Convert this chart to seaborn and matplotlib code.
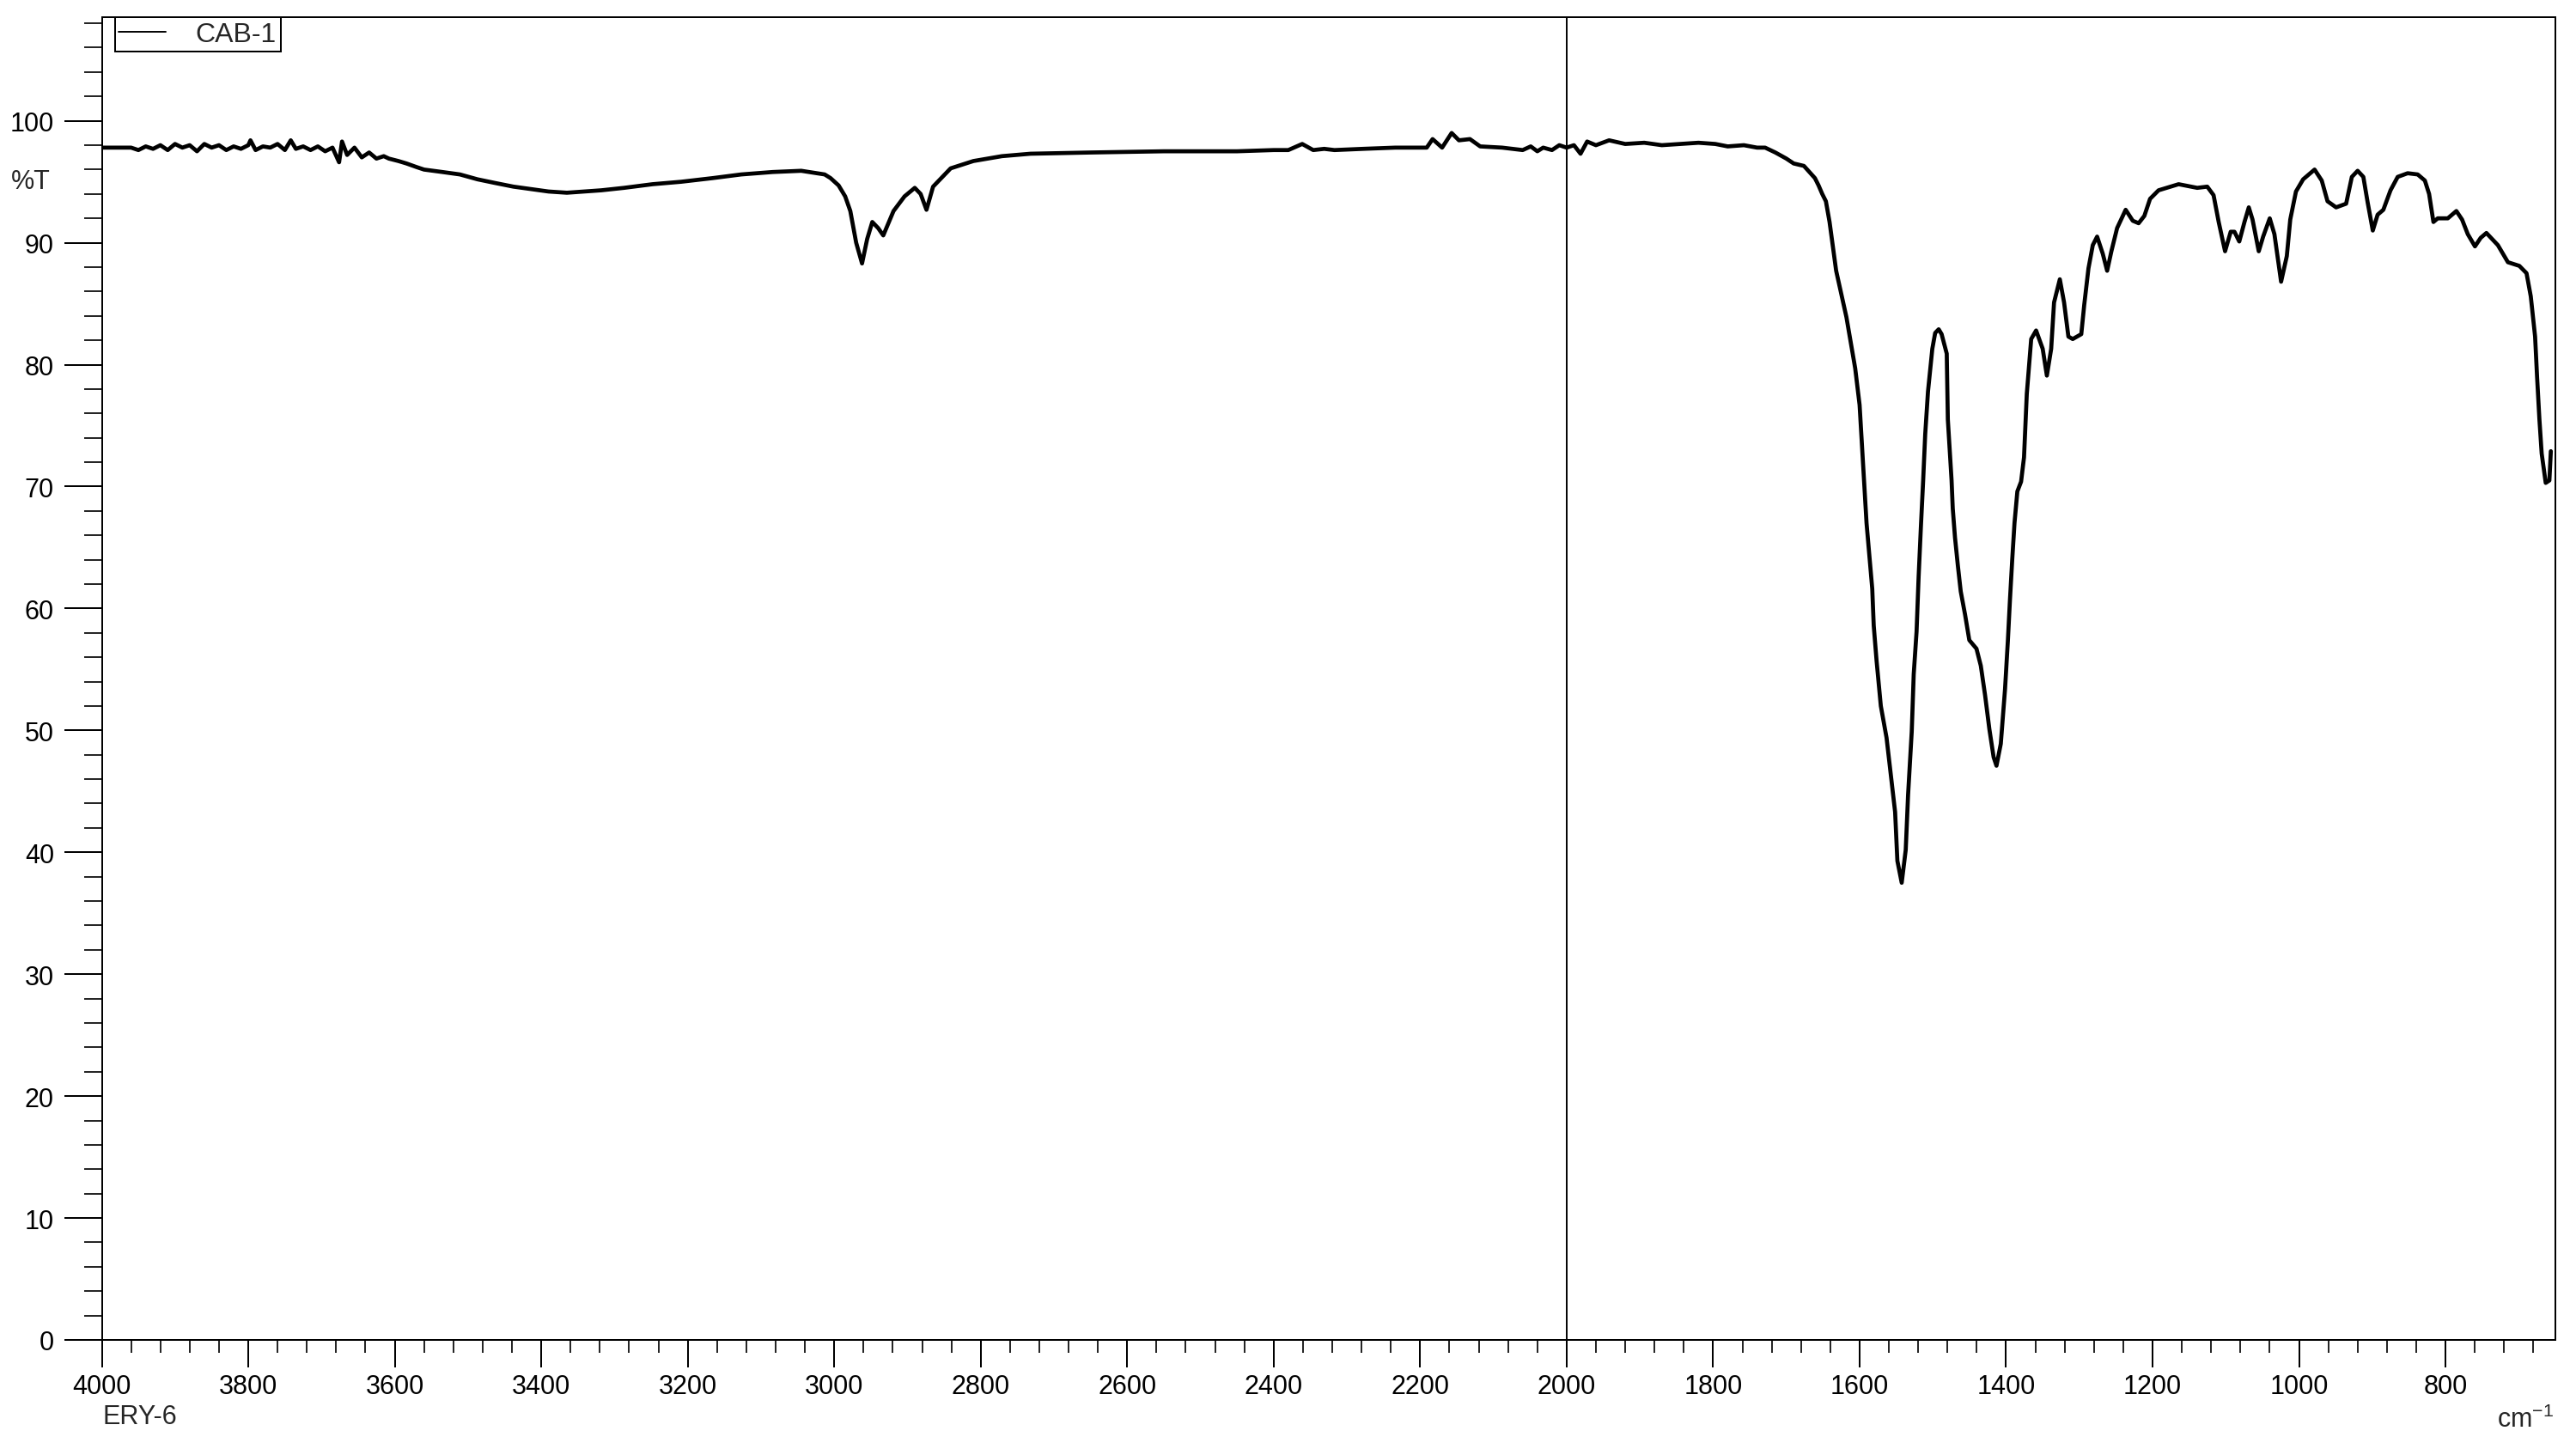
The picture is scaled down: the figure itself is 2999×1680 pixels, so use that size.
import numpy as np
import pandas as pd
import seaborn as sns
import matplotlib.pyplot as plt
from matplotlib.ticker import MultipleLocator

# spectrum: wavenumber (cm-1) and %T
wavenumber = [
    4000, 3960, 3950, 3940, 3930, 3920, 3910, 3900, 3890, 3880, 3870, 3860, 3850, 3840,
    3830, 3820, 3810, 3800, 3797, 3790, 3780, 3770, 3760, 3750, 3742, 3735, 3725, 3715,
    3705, 3695, 3685, 3676, 3672, 3665, 3655, 3645, 3635, 3625, 3615, 3608, 3595, 3584,
    3570, 3560, 3535, 3511, 3487, 3463, 3438, 3414, 3390, 3365, 3341, 3318, 3287, 3248,
    3209, 3166, 3127, 3084, 3045, 3013, 3005, 2994, 2985, 2978, 2970, 2962, 2955, 2948,
    2940, 2933, 2919, 2904, 2890, 2882, 2874, 2865, 2841, 2810, 2771, 2732, 2650, 2550,
    2450, 2400, 2380, 2361, 2346, 2331, 2317, 2278, 2234, 2191, 2183, 2170, 2157, 2147,
    2132, 2118, 2088, 2060, 2049, 2040, 2032, 2020, 2010, 2000, 1990, 1981, 1972, 1960,
    1942, 1920, 1894, 1870, 1845, 1820, 1797, 1780, 1758, 1740, 1729, 1715, 1709, 1700,
    1690, 1676, 1670, 1661, 1656, 1651, 1646, 1641, 1632, 1618, 1606, 1600, 1594, 1590.5,
    1586.6, 1582.7, 1580.7, 1576.8, 1571, 1563.2, 1557.3, 1551.5, 1548.4, 1542.5, 1537,
    1533.8, 1528.8, 1526.1, 1522.2, 1519.4, 1516.3, 1513.2, 1510.4, 1506.6, 1500.7,
    1496.8, 1492, 1488, 1481, 1479.5, 1474.4, 1472.8, 1469.7, 1465.8, 1461.9, 1456,
    1450.2, 1440.4, 1434.5, 1428.7, 1422.8, 1417, 1413.1, 1407.2, 1401.4, 1397.5, 1394.7,
    1391.6, 1388.5, 1384.6, 1379.5, 1375.5, 1371.7, 1365.7, 1359, 1350, 1344.3, 1338.4,
    1334.5, 1326.6, 1320.8, 1314.9, 1309, 1297.3, 1293.3, 1287.5, 1281.6, 1275.7, 1268,
    1262, 1256.2, 1248.4, 1236.7, 1227, 1219, 1211.2, 1203.4, 1191.8, 1164.4, 1139,
    1125.3, 1116.7, 1109.7, 1101, 1093.3, 1088.2, 1081.6, 1074.5, 1068.6, 1063.5, 1055,
    1049, 1040, 1033.6, 1024.5, 1016.7, 1012, 1004.2, 994.4, 978.8, 969, 961.1, 949.4,
    935.7, 927.9, 920, 912.2, 906.3, 899.3, 892.7, 884.9, 875.1, 865.3, 851.7, 838,
    828.2, 822.4, 816.5, 810.6, 796.9, 785.2, 777.4, 769.6, 759.8, 752, 744.2, 728.5,
    714.8, 699.2, 689.4, 683.6, 677.7, 675, 671.8, 668.7, 663.2, 658.2, 656.2,
]
transmittance = [
    97.8, 97.8, 97.6, 97.9, 97.7, 98.0, 97.6, 98.1, 97.8, 98.0, 97.5, 98.1, 97.8, 98.0,
    97.6, 97.9, 97.7, 98.0, 98.4, 97.6, 97.9, 97.8, 98.1, 97.6, 98.4, 97.7, 97.9, 97.6,
    97.9, 97.5, 97.8, 96.6, 98.3, 97.2, 97.8, 97.0, 97.4, 96.9, 97.1, 96.9, 96.7, 96.5,
    96.2, 96.0, 95.8, 95.6, 95.2, 94.9, 94.6, 94.4, 94.2, 94.1, 94.2, 94.3, 94.5, 94.8,
    95.0, 95.3, 95.6, 95.8, 95.9, 95.6, 95.3, 94.7, 93.8, 92.6, 90.0, 88.3, 90.3, 91.7,
    91.2, 90.6, 92.6, 93.8, 94.5, 94.0, 92.7, 94.6, 96.1, 96.7, 97.1, 97.3, 97.4, 97.5,
    97.5, 97.6, 97.6, 98.1, 97.6, 97.7, 97.6, 97.7, 97.8, 97.8, 98.5, 97.8, 99.0, 98.4,
    98.5, 97.9, 97.8, 97.6, 97.9, 97.5, 97.8, 97.6, 98.0, 97.8, 98.0, 97.3, 98.3, 98.0,
    98.4, 98.1, 98.2, 98.0, 98.1, 98.2, 98.1, 97.9, 98.0, 97.8, 97.8, 97.4, 97.2, 96.9,
    96.5, 96.3, 95.9, 95.3, 94.7, 94.0, 93.4, 91.7, 87.7, 83.9, 79.7, 76.7, 70.5, 67.0,
    64.3, 61.6, 58.6, 55.7, 52.0, 49.4, 46.3, 43.3, 39.3, 37.5, 40.2,
    44.7, 49.9, 54.6, 58.1, 62.6, 66.7, 70.5, 74.3, 77.8, 81.3,
    82.6, 82.9, 82.5, 80.9, 75.5, 70.5, 68.2, 65.8, 63.5, 61.4, 59.5,
    57.4, 56.7, 55.3, 52.9, 50.1, 47.8, 47.1, 48.9, 53.4, 57.4, 60.7,
    64.0, 67.0, 69.6, 70.4, 72.4, 77.6, 82.1, 82.8, 81.3, 79.1, 81.3,
    85.1, 87.0, 85.1, 82.3, 82.1, 82.5, 84.9, 87.9, 89.8, 90.5, 89.1,
    87.7, 89.3, 91.2, 92.7, 91.8, 91.6, 92.2, 93.6, 94.3, 94.8, 94.5,
    94.6, 93.9, 91.7, 89.3, 90.9, 90.9, 90.1, 91.7, 92.9, 91.9, 89.3,
    90.5, 92.0, 90.7, 86.8, 88.9, 91.9, 94.2, 95.2, 96.0, 95.1, 93.4, 92.9,
    93.2, 95.4, 95.9, 95.4, 93.3, 91.0, 92.3, 92.7, 94.3, 95.4, 95.7, 95.6,
    95.1, 94.0, 91.7, 92.0, 92.0, 92.6, 91.9, 90.7, 89.7, 90.4, 90.8, 89.8,
    88.4, 88.1, 87.5, 85.6, 82.3, 79.0, 75.5, 72.7, 70.3, 70.5, 72.9,
]
sample_name = 'CAB-1'
footer_name = 'ERY-6'

df = pd.DataFrame({'wn': wavenumber, 'T': transmittance})

sns.set_style('ticks')
plt.rcParams['font.family'] = ['Liberation Sans', 'DejaVu Sans']
plt.rcParams['mathtext.default'] = 'regular'
font_size = 22

W, H = 2999, 1681
fig = plt.figure(figsize=(W / 100, H / 100), dpi=100)
ax = fig.add_axes([118.5 / W, 1 - 1561 / H, (2975 - 118.5) / W, (1561 - 21) / H])

sns.lineplot(data=df, x='wn', y='T', ax=ax, sort=False, estimator=None,
             color='black', linewidth=3.4, label=sample_name)
ax.axvline(2000, color='black', linewidth=1.4)

ax.set_xlim(4000, 650)
ax.set_ylim(0, 108.5)
ax.xaxis.set_major_locator(MultipleLocator(200))
ax.xaxis.set_minor_locator(MultipleLocator(40))
ax.yaxis.set_major_locator(MultipleLocator(10))
ax.yaxis.set_minor_locator(MultipleLocator(2))

ax.tick_params(axis='x', which='major', length=23, width=1.44, pad=5, labelsize=font_size, colors='black')
ax.tick_params(axis='x', which='minor', length=11, width=1.44)
ax.tick_params(axis='y', which='major', length=32, width=1.44, pad=8, labelsize=font_size, colors='black')
ax.tick_params(axis='y', which='minor', length=15, width=1.44)
for side in ['top', 'right', 'left', 'bottom']:
    ax.spines[side].set_visible(True)
    ax.spines[side].set_linewidth(1.44)
    ax.spines[side].set_color('black')

ax.set_xlabel('')
ax.set_ylabel('')

leg = ax.legend(loc='upper left', bbox_to_anchor=(15 / 2856.5, 1.0), borderaxespad=0,
                fontsize=23, frameon=True, fancybox=False, framealpha=1,
                edgecolor='black', borderpad=0.15, handlelength=1.7, handletextpad=1.1)
leg.get_frame().set_linewidth(1.44)
leg.get_lines()[0].set_linewidth(1.4)

fig.text(13 / W, 1 - 212 / H, '%T', fontsize=font_size, ha='left', va='center')
fig.text(120 / W, 1 - 1650 / H, footer_name, fontsize=font_size, ha='left', va='center')
fig.text(2907 / W, 1 - 1662 / H, 'cm$^{-1}$', fontsize=font_size, ha='left', va='baseline')

fig.savefig('out.png', dpi=100, facecolor='white')
